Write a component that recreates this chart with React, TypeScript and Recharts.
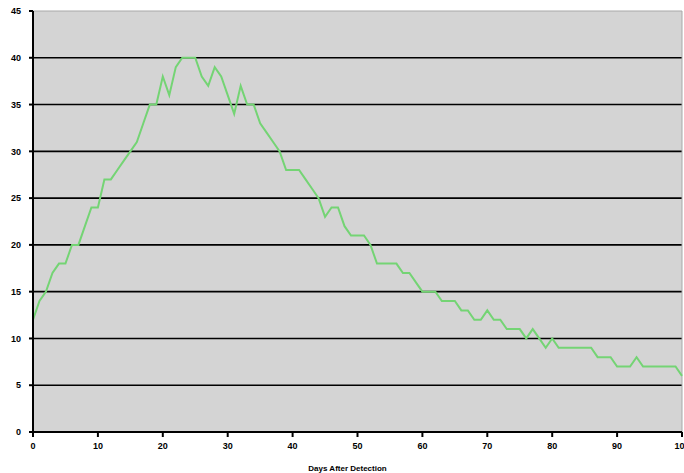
import { LineChart, Line, XAxis, YAxis, CartesianGrid, ReferenceLine, Label } from 'recharts';

// daily counts, day 0 .. 100
const counts = [
  12, 14, 15, 17, 18, 18, 20, 20, 22, 24,
  24, 27, 27, 28, 29, 30, 31, 33, 35, 35,
  38, 36, 39, 40, 40, 40, 38, 37, 39, 38,
  36, 34, 37, 35, 35, 33, 32, 31, 30, 28,
  28, 28, 27, 26, 25, 23, 24, 24, 22, 21,
  21, 21, 20, 18, 18, 18, 18, 17, 17, 16,
  15, 15, 15, 14, 14, 14, 13, 13, 12, 12,
  13, 12, 12, 11, 11, 11, 10, 11, 10, 9,
  10, 9, 9, 9, 9, 9, 9, 8, 8, 8,
  7, 7, 7, 8, 7, 7, 7, 7, 7, 7,
  6,
];

const xTicks = [0, 10, 20, 30, 40, 50, 60, 70, 80, 90, 100];
const yTicks = [0, 5, 10, 15, 20, 25, 30, 35, 40, 45];
const gridValues = [5, 10, 15, 20, 25, 30, 35, 40];

const data = counts.map((value, day) => ({ day, value }));

const tickStyle = { fontSize: 9, fontWeight: 'bold', fill: '#000', fontFamily: 'Liberation Sans, Arial, sans-serif' };

export default function App() {
  return (
    <div style={{ position: 'fixed', left: 0, top: 0, width: 684, height: 473, background: '#fff' }}>
      <LineChart width={684} height={473} data={data} margin={{ top: 11, right: 2, bottom: 0, left: 0 }}>
        <CartesianGrid fill="#d4d4d4" horizontal={false} vertical={false} />
        {gridValues.map((v) => (
          <ReferenceLine key={v} y={v} stroke="#000" strokeWidth={1.6} />
        ))}
        <ReferenceLine y={45} stroke="#a8a8a8" strokeWidth={1} />
        <ReferenceLine x={100} stroke="#a8a8a8" strokeWidth={1} />
        <XAxis
          dataKey="day"
          type="number"
          domain={[0, 100]}
          ticks={xTicks}
          interval={0}
          height={41}
          tick={tickStyle}
          tickSize={5}
          tickMargin={6}
          axisLine={{ stroke: '#000', strokeWidth: 2 }}
          tickLine={{ stroke: '#000', strokeWidth: 2 }}
        >
          <Label
            value="Days After Detection"
            position="insideBottom"
            offset={2}
            dx={-10}
            style={{ fontSize: 8, fontWeight: 'bold', fill: '#000', fontFamily: 'Liberation Sans, Arial, sans-serif' }}
          />
        </XAxis>
        <YAxis
          type="number"
          domain={[0, 45]}
          ticks={yTicks}
          interval={0}
          width={33}
          tick={tickStyle}
          tickSize={4}
          tickMargin={8}
          axisLine={{ stroke: '#000', strokeWidth: 2 }}
          tickLine={{ stroke: '#000', strokeWidth: 2 }}
        />
        <Line
          type="linear"
          dataKey="value"
          stroke="#74d474"
          strokeWidth={2}
          dot={false}
          isAnimationActive={false}
        />
      </LineChart>
    </div>
  );
}
